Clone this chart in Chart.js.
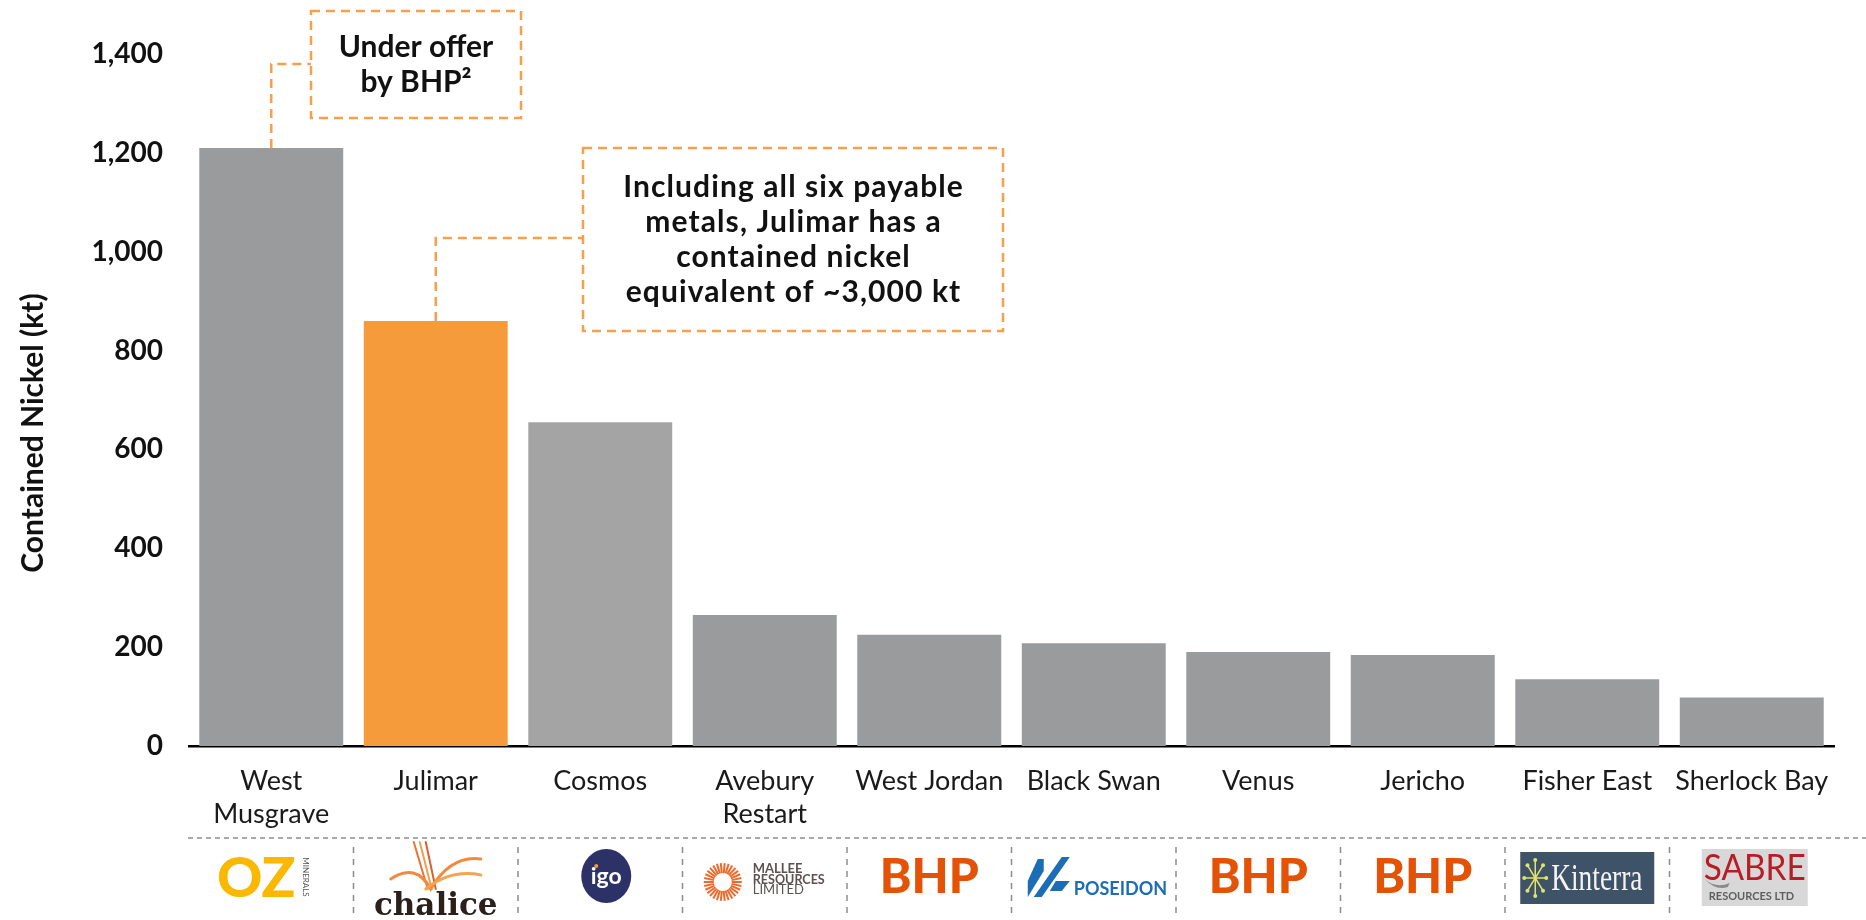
<!DOCTYPE html>
<html>
<head>
<meta charset="utf-8">
<script src="https://cdn.jsdelivr.net/npm/chart.js@4.4.0/dist/chart.umd.min.js"></script>
<style>
  html, body { margin: 0; padding: 0; background: #fff; }
  #wrap { width: 1866px; height: 920px; position: relative; }
</style>
</head>
<body>
<div id="wrap"><canvas id="nickelChart"></canvas></div>
<script>
// projects and contained nickel (kt)
const projects = [["West", "Musgrave"], "Julimar", "Cosmos", ["Avebury", "Restart"], "West Jordan",
                  "Black Swan", "Venus", "Jericho", "Fisher East", "Sherlock Bay"];
const nickelKt = [1210, 860, 655, 265, 225, 208, 190, 184, 135, 98];
const owners = ["OZ Minerals", "Chalice", "IGO", "Mallee Resources", "BHP",
                "Poseidon", "BHP", "BHP", "Kinterra", "Sabre Resources"];
const yTicks = [0, 200, 400, 600, 800, 1000, 1200, 1400];
const yTitle = "Contained Nickel (kt)";

const notes = [
    { bar: 0, lines: ["Under offer", "by BHP\u00B2"] },
    { bar: 1, lines: ["Including all six payable", "metals, Julimar has a", "contained nickel", "equivalent of ~3,000 kt"] }
];

const GREY = "#9a9b9d";
const ORANGE = "#f59b3b";
const barColours = owners.map((o, i) => i === 1 ? ORANGE : (i === 2 ? "#a4a4a4" : GREY));

// box layout for the two call-outs (pixels)
const noteBoxes = [
    { x: 311, y: 11, w: 210, h: 107, elbowY: 64, spacing: 0 },
    { x: 583, y: 148, w: 420, h: 183, elbowY: 238, spacing: 1.1 }
];

const FONT = "Lato, 'Open Sans', sans-serif";

const calloutPlugin = {
    id: "callouts",
    afterDatasetsDraw(chart) {
        const ctx = chart.ctx;
        const meta = chart.getDatasetMeta(0);
        ctx.save();
        ctx.strokeStyle = "#f6a04c";
        ctx.lineWidth = 2.5;
        ctx.setLineDash([9, 6]);
        notes.forEach((n, k) => {
            const b = noteBoxes[k];
            const bar = meta.data[n.bar];
            ctx.beginPath();
            ctx.moveTo(bar.x, bar.y);
            ctx.lineTo(bar.x, b.elbowY);
            ctx.lineTo(b.x, b.elbowY);
            ctx.stroke();
            ctx.strokeRect(b.x, b.y, b.w, b.h);
        });
        ctx.setLineDash([]);
        ctx.fillStyle = "#111";
        ctx.font = "bold 30px " + FONT;
        ctx.textAlign = "center";
        ctx.textBaseline = "middle";
        notes.forEach((n, k) => {
            const b = noteBoxes[k];
            const cy = b.y + b.h / 2;
            const step = 35;
            ctx.letterSpacing = b.spacing + "px";
            n.lines.forEach((line, j) => {
                ctx.fillText(line, b.x + b.w / 2 + b.spacing / 2, cy + (j - (n.lines.length - 1) / 2) * step);
            });
        });
        ctx.letterSpacing = "0px";
        // y axis title
        ctx.save();
        ctx.translate(33, 433);
        ctx.rotate(-Math.PI / 2);
        ctx.font = "bold 30px " + FONT;
        ctx.fillText(yTitle, 0, 0);
        ctx.restore();
        ctx.restore();
    }
};

function drawOZ(ctx, cx, cy) {
    ctx.fillStyle = "#fbb800";
    ctx.font = "900 56px " + FONT;
    ctx.textAlign = "center";
    ctx.textBaseline = "middle";
    ctx.fillText("OZ", cx - 15, cy + 2);
    ctx.save();
    ctx.translate(cx + 34, cy);
    ctx.rotate(Math.PI / 2);
    ctx.fillStyle = "#555";
    ctx.font = "8px " + FONT;
    ctx.fillText("MINERALS", 0, 0);
    ctx.restore();
}

function drawChalice(ctx, cx, cy) {
    ctx.save();
    ctx.lineCap = "round";
    const cols = ["#e8733a", "#f0a050", "#d9602f"];
    ctx.lineWidth = 2;
    for (let k = 0; k < 3; k++) {
        ctx.strokeStyle = cols[k];
        ctx.beginPath();
        ctx.moveTo(cx - 22 + k * 6, cy - 35);
        ctx.lineTo(cx - 8 + k * 4, cy + 12);
        ctx.stroke();
    }
    ctx.lineWidth = 3;
    ctx.strokeStyle = "#ef8a3e";
    ctx.beginPath();
    ctx.moveTo(cx - 45, cy + 2);
    ctx.quadraticCurveTo(cx - 20, cy - 15, cx - 5, cy + 12);
    ctx.quadraticCurveTo(cx + 15, cy - 22, cx + 45, cy - 18);
    ctx.stroke();
    ctx.strokeStyle = "#f3a452";
    ctx.beginPath();
    ctx.moveTo(cx - 10, cy + 12);
    ctx.quadraticCurveTo(cx + 15, cy - 8, cx + 45, cy - 2);
    ctx.stroke();
    ctx.fillStyle = "#2b211c";
    ctx.font = "bold 31px 'DejaVu Serif', serif";
    ctx.textAlign = "center";
    ctx.textBaseline = "alphabetic";
    ctx.fillText("chalice", cx, cy + 38);
    ctx.restore();
}

function drawIGO(ctx, cx, cy) {
    ctx.fillStyle = "#2c3168";
    ctx.beginPath();
    ctx.ellipse(cx + 6, cy - 1, 25, 27, 0, 0, Math.PI * 2);
    ctx.fill();
    ctx.fillStyle = "#fff";
    ctx.font = "bold 23px " + FONT;
    ctx.textAlign = "center";
    ctx.textBaseline = "middle";
    ctx.fillText("igo", cx + 6, cy);
    ctx.fillStyle = "#f39a3a";
    ctx.beginPath();
    ctx.arc(cx - 4, cy - 11, 2, 0, Math.PI * 2);
    ctx.fill();
}

function drawMallee(ctx, cx, cy) {
    const ox = cx - 42, oy = cy + 5;
    ctx.save();
    ctx.strokeStyle = "#ee6a2a";
    ctx.lineWidth = 2;
    for (let k = 0; k < 30; k++) {
        const a = k / 30 * Math.PI * 2;
        ctx.beginPath();
        ctx.moveTo(ox + Math.cos(a) * 9, oy + Math.sin(a) * 9);
        ctx.lineTo(ox + Math.cos(a) * 19, oy + Math.sin(a) * 19);
        ctx.stroke();
    }
    ctx.fillStyle = "#5c5252";
    ctx.textAlign = "left";
    ctx.textBaseline = "middle";
    ctx.font = "bold 13px " + FONT;
    ctx.fillText("MALLEE", cx - 12, cy - 8, 72);
    ctx.fillText("RESOURCES", cx - 12, cy + 2.5, 72);
    ctx.font = "13px " + FONT;
    ctx.fillText("LIMITED", cx - 12, cy + 13);
    ctx.restore();
}

function drawBHP(ctx, cx, cy) {
    ctx.fillStyle = "#e35205";
    ctx.font = "900 48px " + FONT;
    ctx.textAlign = "center";
    ctx.textBaseline = "middle";
    ctx.fillText("BHP", cx, cy + 1);
}

function drawPoseidon(ctx, cx, cy) {
    const ox = cx - 66, oy = cy;
    ctx.fillStyle = "#1b6db5";
    ctx.beginPath();
    ctx.moveTo(ox + 10, oy - 18); ctx.lineTo(ox + 16, oy - 18); ctx.lineTo(ox + 16, oy - 6); ctx.lineTo(ox + 0, oy + 20);
    ctx.lineTo(ox + 0, oy + 4); ctx.closePath(); ctx.fill();
    ctx.beginPath();
    ctx.moveTo(ox + 34, oy - 20); ctx.lineTo(ox + 42, oy - 20); ctx.lineTo(ox + 14, oy + 20); ctx.lineTo(ox + 6, oy + 20);
    ctx.closePath(); ctx.fill();
    ctx.beginPath();
    ctx.moveTo(ox + 28, oy + 4); ctx.lineTo(ox + 42, oy + 4); ctx.lineTo(ox + 34, oy + 14); ctx.lineTo(ox + 22, oy + 14);
    ctx.closePath(); ctx.fill();
    ctx.font = "bold 18px " + FONT;
    ctx.textAlign = "left";
    ctx.textBaseline = "middle";
    ctx.fillText("POSEIDON", ox + 46, oy + 12);
}

function drawKinterra(ctx, cx, cy) {
    const x = cx - 67, y = cy - 25;
    ctx.fillStyle = "#3e5268";
    ctx.fillRect(x, y, 134, 52);
    ctx.strokeStyle = "#e2e36e";
    ctx.fillStyle = "#e2e36e";
    ctx.lineWidth = 1.5;
    const fx = x + 15, fy = y + 26;
    for (let k = 0; k < 8; k++) {
        const a = k / 8 * Math.PI * 2;
        ctx.beginPath();
        ctx.moveTo(fx, fy);
        ctx.lineTo(fx + Math.cos(a) * 11, fy + Math.sin(a) * 18);
        ctx.stroke();
        ctx.beginPath();
        ctx.arc(fx + Math.cos(a) * 11, fy + Math.sin(a) * 18, 2, 0, Math.PI * 2);
        ctx.fill();
    }
    ctx.fillStyle = "#f4f4f4";
    ctx.font = "38px 'Liberation Serif', serif";
    ctx.textAlign = "left";
    ctx.textBaseline = "middle";
    ctx.save();
    ctx.translate(x + 31, y + 28);
    ctx.scale(0.72, 1);
    ctx.fillText("Kinterra", 0, 0);
    ctx.restore();
}

function drawSabre(ctx, cx, cy) {
    const x = cx - 50, y = cy - 28;
    ctx.fillStyle = "#d8d8d8";
    ctx.fillRect(x, y, 106, 57);
    // little grey swoosh under the S
    ctx.fillStyle = "#8a8a8a";
    ctx.beginPath();
    ctx.moveTo(x + 3, y + 30);
    ctx.quadraticCurveTo(x + 14, y + 40, x + 28, y + 34);
    ctx.lineTo(x + 26, y + 38);
    ctx.quadraticCurveTo(x + 14, y + 42, x + 3, y + 30);
    ctx.fill();
    ctx.fillStyle = "#b81d25";
    ctx.font = "36px " + FONT;
    ctx.textAlign = "left";
    ctx.textBaseline = "middle";
    ctx.fillText("SABRE", x + 2, y + 19, 102);
    ctx.fillStyle = "#5e5e5e";
    ctx.font = "bold 11px " + FONT;
    ctx.fillText("RESOURCES LTD", x + 7, y + 47, 96);
}

const logoDrawers = {
    "OZ Minerals": drawOZ, "Chalice": drawChalice, "IGO": drawIGO, "Mallee Resources": drawMallee,
    "BHP": drawBHP, "Poseidon": drawPoseidon, "Kinterra": drawKinterra, "Sabre Resources": drawSabre
};

const ownerRowPlugin = {
    id: "ownerRow",
    afterDraw(chart) {
        const ctx = chart.ctx;
        const xs = chart.scales.x;
        ctx.save();
        // dashed rule under the labels
        ctx.strokeStyle = "#8d8d8d";
        ctx.lineWidth = 1.5;
        ctx.setLineDash([5, 4]);
        ctx.beginPath();
        ctx.moveTo(chart.chartArea.left - 1, 838);
        ctx.lineTo(chart.width, 838);
        ctx.stroke();
        // dividers between owners
        ctx.setLineDash([6, 6]);
        for (let i = 1; i < owners.length; i++) {
            const x = (xs.getPixelForValue(i - 1) + xs.getPixelForValue(i)) / 2;
            ctx.beginPath();
            ctx.moveTo(x, 847);
            ctx.lineTo(x, 913);
            ctx.stroke();
        }
        ctx.setLineDash([]);
        owners.forEach((o, i) => {
            ctx.save();
            logoDrawers[o](ctx, xs.getPixelForValue(i), 877);
            ctx.restore();
        });
        ctx.restore();
    }
};

document.addEventListener("DOMContentLoaded", () => {
    const el = document.getElementById("nickelChart");
    new Chart(el, {
        type: "bar",
        data: {
            labels: projects,
            datasets: [{
                label: yTitle,
                data: nickelKt,
                backgroundColor: barColours,
                borderWidth: 0,
                categoryPercentage: 1.0,
                barPercentage: 0.875
            }]
        },
        options: {
            responsive: true,
            maintainAspectRatio: false,
            animation: false,
            layout: { padding: { top: 54, right: 32, left: 0, bottom: 0 } },
            plugins: {
                legend: { display: false },
                tooltip: { enabled: false }
            },
            scales: {
                x: {
                    grid: { display: false, drawTicks: false },
                    border: { display: true, color: "#000", width: 2.5 },
                    ticks: {
                        color: "#1a1a1a",
                        font: { family: FONT, size: 27, lineHeight: 1.22 },
                        padding: 19,
                        maxRotation: 0,
                        autoSkip: false
                    },
                    afterFit(scale) { scale.height = 174; }
                },
                y: {
                    min: 0,
                    max: 1400,
                    afterBuildTicks(scale) { scale.ticks = yTicks.map(v => ({ value: v })); },
                    grid: { display: false, drawTicks: false },
                    border: { display: false },
                    ticks: {
                        color: "#111",
                        font: { family: FONT, size: 28, weight: "bold" },
                        padding: 26,
                        callback: v => v.toLocaleString("en-US")
                    },
                    afterFit(scale) { scale.width = 189; }
                }
            }
        },
        plugins: [calloutPlugin, ownerRowPlugin]
    });
});
</script>
</body>
</html>
